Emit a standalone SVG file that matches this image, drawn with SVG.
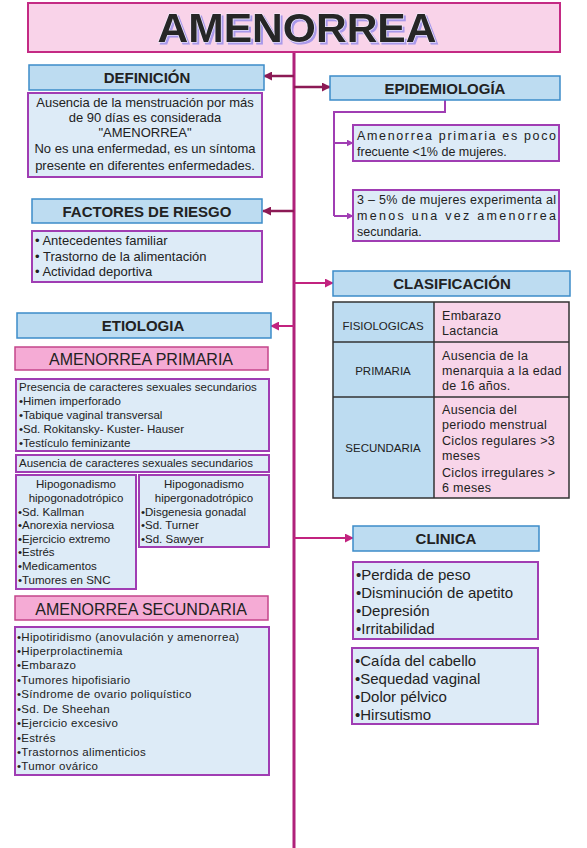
<svg xmlns="http://www.w3.org/2000/svg" width="587" height="848" viewBox="0 0 587 848">
<style>
text{font-family:"Liberation Sans",Arial,sans-serif;fill:#222}
.hdr{fill:#bddcf1;stroke:#3d8cc9;stroke-width:1.5}
.hdrt{font-size:15px;font-weight:bold;text-anchor:middle}
.body{fill:#ddebf7;stroke:#a03db3;stroke-width:2}
.pk{fill:#f5abd5;stroke:#c4458a;stroke-width:1.5}
.pkt{font-size:16px;text-anchor:middle}
.t12{font-size:12px}
.t13{font-size:13px}
.t125{font-size:12.5px}
.t11{font-size:11.5px}
.ls{letter-spacing:0.3px}
.t15{font-size:15px}
.c{text-anchor:middle}
.tl{fill:#bddcf1}
.tr{fill:#f8d5e9}
</style>
<defs>
<marker id="ad" viewBox="0 0 10 10" refX="9" refY="5" markerWidth="9" markerHeight="9" markerUnits="userSpaceOnUse" orient="auto"><path d="M0,0 L10,5 L0,10 z" fill="#8c1a55"/></marker>
<marker id="ap" viewBox="0 0 10 10" refX="9" refY="5" markerWidth="9" markerHeight="9" markerUnits="userSpaceOnUse" orient="auto"><path d="M0,0 L10,5 L0,10 z" fill="#c2237f"/></marker>
<marker id="av" viewBox="0 0 10 10" refX="9" refY="5" markerWidth="7" markerHeight="7" markerUnits="userSpaceOnUse" orient="auto"><path d="M0,0 L10,5 L0,10 z" fill="#a03db3"/></marker>
<filter id="sh" x="-10%" y="-20%" width="120%" height="150%">
<feOffset in="SourceAlpha" dx="2" dy="2" result="o"/>
<feFlood flood-color="#a898ea"/>
<feComposite in2="o" operator="in" result="s"/>
<feMerge><feMergeNode in="s"/><feMergeNode in="SourceGraphic"/></feMerge>
</filter>
</defs>

<g id="connectors" fill="none">
<line x1="294" y1="52" x2="294" y2="848" stroke="#b0217a" stroke-width="3"/>
<line x1="294" y1="76" x2="264" y2="76" stroke="#8c1a55" stroke-width="2.5" marker-end="url(#ad)"/>
<line x1="294" y1="87" x2="330" y2="87" stroke="#8c1a55" stroke-width="2.5" marker-end="url(#ad)"/>
<line x1="294" y1="211" x2="263" y2="211" stroke="#8c1a55" stroke-width="2.5" marker-end="url(#ad)"/>
<line x1="294" y1="283" x2="333" y2="283" stroke="#c2237f" stroke-width="2" marker-end="url(#ap)"/>
<line x1="294" y1="326" x2="271" y2="326" stroke="#c2237f" stroke-width="2" marker-end="url(#ap)"/>
<line x1="294" y1="538" x2="353" y2="538" stroke="#c2237f" stroke-width="2" marker-end="url(#ap)"/>
<path d="M445,100 V112 H334 V216" stroke="#a03db3" stroke-width="2"/>
<line x1="334" y1="143" x2="353" y2="143" stroke="#a03db3" stroke-width="2" marker-end="url(#av)"/>
<line x1="334" y1="216" x2="353" y2="216" stroke="#a03db3" stroke-width="2" marker-end="url(#av)"/>
</g>

<g id="title">
<rect x="28" y="3" width="532" height="49" fill="#f9d3e9" stroke="#c42a84" stroke-width="2"/>
<text x="297" y="42" text-anchor="middle" font-size="41" font-weight="bold" textLength="279" lengthAdjust="spacingAndGlyphs" filter="url(#sh)" style="fill:#262626;stroke:#f2eeff;stroke-width:1.2;paint-order:stroke">AMENORREA</text>
</g>

<g id="definicion">
<rect class="hdr" x="29" y="65" width="235" height="25"/>
<text class="hdrt" x="147" y="83">DEFINICIÓN</text>
</g>
<g id="definicion-texto">
<rect class="body" x="28" y="93" width="234" height="84"/>
<text class="t13 c" x="145" y="107">Ausencia de la menstruación por más</text>
<text class="t13 c" x="145" y="122">de 90 días es considerada</text>
<text class="t13 c" x="145" y="137">"AMENORREA"</text>
<text class="t13 c" x="145" y="153">No es una enfermedad, es un síntoma</text>
<text class="t13 c" x="145" y="170">presente en diferentes enfermedades.</text>
</g>

<g id="epidemiologia">
<rect class="hdr" x="330" y="76" width="230" height="24"/>
<text class="hdrt" x="445" y="94">EPIDEMIOLOGÍA</text>
</g>
<g id="epi-1">
<rect class="body" x="353" y="125" width="206" height="36"/>
<text class="t125" x="357" y="140" textLength="199" lengthAdjust="spacing">Amenorrea primaria es poco</text>
<text class="t125" x="357" y="156">frecuente &lt;1% de mujeres.</text>
</g>
<g id="epi-2">
<rect class="body" x="353" y="190" width="206" height="51"/>
<text class="t125" x="357" y="204" textLength="199" lengthAdjust="spacing">3 – 5% de mujeres experimenta al</text>
<text class="t125" x="357" y="220" textLength="199" lengthAdjust="spacing">menos una vez amenorrea</text>
<text class="t125" x="357" y="236">secundaria.</text>
</g>

<g id="factores">
<rect class="hdr" x="32" y="199" width="230" height="24"/>
<text class="hdrt" x="147" y="217">FACTORES DE RIESGO</text>
</g>
<g id="factores-texto">
<rect class="body" x="32" y="231" width="230" height="51"/>
<text class="t13" x="35" y="245">• Antecedentes familiar</text>
<text class="t13" x="35" y="261">• Trastorno de la alimentación</text>
<text class="t13" x="35" y="276">• Actividad deportiva</text>
</g>

<g id="clasificacion">
<rect class="hdr" x="333" y="271" width="237" height="25"/>
<text class="hdrt" x="452" y="289">CLASIFICACIÓN</text>
</g>
<g id="tabla">
<rect class="tl" x="333" y="302" width="101" height="196"/>
<rect class="tr" x="434" y="302" width="135" height="196"/>
<g fill="none" stroke="#333" stroke-width="1.5">
<rect x="333" y="302" width="236" height="196"/>
<line x1="434" y1="302" x2="434" y2="498"/>
<line x1="333" y1="342" x2="569" y2="342"/>
<line x1="333" y1="397" x2="569" y2="397"/>
</g>
<text class="t11 c" x="383" y="330">FISIOLOGICAS</text>
<text class="t11 c" x="383" y="375">PRIMARIA</text>
<text class="t11 c" x="383" y="452">SECUNDARIA</text>
<g class="t125 ls">
<text x="442" y="320">Embarazo</text>
<text x="442" y="335">Lactancia</text>
<text x="442" y="360">Ausencia de la</text>
<text x="442" y="375">menarquia a la edad</text>
<text x="442" y="390">de 16 años.</text>
<text x="442" y="414">Ausencia del</text>
<text x="442" y="429">periodo menstrual</text>
<text x="442" y="445">Ciclos regulares &gt;3</text>
<text x="442" y="460">meses</text>
<text x="442" y="477">Ciclos irregulares &gt;</text>
<text x="442" y="492">6 meses</text>
</g>
</g>

<g id="etiologia">
<rect class="hdr" x="17" y="313" width="254" height="25"/>
<text class="hdrt" x="143" y="331">ETIOLOGIA</text>
</g>
<g id="amenorrea-primaria">
<rect class="pk" x="15" y="347" width="253" height="23"/>
<text class="pkt" x="141" y="365">AMENORREA PRIMARIA</text>
</g>
<g id="presencia">
<rect class="body" x="16" y="379" width="253" height="72"/>
<text class="t11" x="19" y="391">Presencia de caracteres sexuales secundarios</text>
<text class="t11" x="19" y="405">•Himen imperforado</text>
<text class="t11" x="19" y="419">•Tabique vaginal transversal</text>
<text class="t11" x="19" y="433">•Sd. Rokitansky- Kuster- Hauser</text>
<text class="t11" x="19" y="447">•Testículo feminizante</text>
</g>
<g id="ausencia">
<rect class="body" x="16" y="455" width="253" height="17"/>
<text class="t11" x="19" y="467">Ausencia de caracteres sexuales secundarios</text>
</g>
<g id="hipogonadotropico">
<rect class="body" x="16" y="475" width="120" height="114"/>
<text class="t11 c" x="76" y="488">Hipogonadismo</text>
<text class="t11 c" x="76" y="502">hipogonadotrópico</text>
<text class="t11" x="18" y="516">•Sd. Kallman</text>
<text class="t11" x="18" y="529">•Anorexia nerviosa</text>
<text class="t11" x="18" y="543">•Ejercicio extremo</text>
<text class="t11" x="18" y="556">•Estrés</text>
<text class="t11" x="18" y="570">•Medicamentos</text>
<text class="t11" x="18" y="584">•Tumores en SNC</text>
</g>
<g id="hipergonadotropico">
<rect class="body" x="139" y="475" width="130" height="72"/>
<text class="t11 c" x="204" y="488">Hipogonadismo</text>
<text class="t11 c" x="204" y="502">hipergonadotrópico</text>
<text class="t11" x="141" y="516">•Disgenesia gonadal</text>
<text class="t11" x="141" y="529">•Sd. Turner</text>
<text class="t11" x="141" y="543">•Sd. Sawyer</text>
</g>
<g id="amenorrea-secundaria">
<rect class="pk" x="15" y="596" width="253" height="24"/>
<text class="pkt" x="141" y="615">AMENORREA SECUNDARIA</text>
</g>
<g id="secundaria-lista">
<rect class="body" x="15" y="627" width="254" height="148"/>
<g class="t11 ls">
<text x="17" y="641">•Hipotiridismo (anovulación y amenorrea)</text>
<text x="17" y="655">•Hiperprolactinemia</text>
<text x="17" y="669">•Embarazo</text>
<text x="17" y="684">•Tumores hipofisiario</text>
<text x="17" y="698">•Síndrome de ovario poliquístico</text>
<text x="17" y="713">•Sd. De Sheehan</text>
<text x="17" y="727">•Ejercicio excesivo</text>
<text x="17" y="742">•Estrés</text>
<text x="17" y="756">•Trastornos alimenticios</text>
<text x="17" y="770">•Tumor ovárico</text>
</g>
</g>

<g id="clinica">
<rect class="hdr" x="353" y="526" width="186" height="25"/>
<text class="hdrt" x="446" y="544">CLINICA</text>
</g>
<g id="clinica-1">
<rect class="body" x="353" y="562" width="185" height="77"/>
<text class="t15" x="356" y="580">•Perdida de peso</text>
<text class="t15" x="356" y="598">•Disminución de apetito</text>
<text class="t15" x="356" y="616">•Depresión</text>
<text class="t15" x="356" y="634">•Irritabilidad</text>
</g>
<g id="clinica-2">
<rect class="body" x="352" y="648" width="186" height="76"/>
<text class="t15" x="355" y="666">•Caída del cabello</text>
<text class="t15" x="355" y="684">•Sequedad vaginal</text>
<text class="t15" x="355" y="702">•Dolor pélvico</text>
<text class="t15" x="355" y="720">•Hirsutismo</text>
</g>
</svg>
